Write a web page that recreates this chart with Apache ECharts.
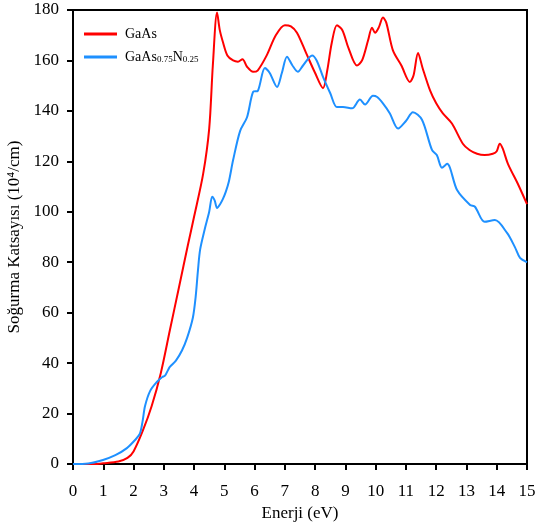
<!DOCTYPE html>
<html><head><meta charset="utf-8">
<script src="https://cdn.jsdelivr.net/npm/echarts@6/dist/echarts.min.js"></script>
<style>html,body{margin:0;padding:0;background:#fff}#c{width:537px;height:524px}</style>
</head><body><div id="c"></div>
<script>
const xTicks = [0,1,2,3,4,5,6,7,8,9,10,11,12,13,14,15];
const yTicks = [0,20,40,60,80,100,120,140,160,180];
const gaasE = [0,0.7,1.0,1.5,1.8,2.0,2.3,2.6,2.9,3.2,3.5,3.8,4.0,4.3,4.5,4.62,4.76,4.85,4.96,5.1,5.29,5.45,5.6,5.75,5.95,6.1,6.4,6.7,7.0,7.2,7.4,7.7,8.0,8.26,8.4,8.55,8.72,8.9,9.1,9.38,9.55,9.75,9.88,9.98,10.1,10.24,10.35,10.57,10.85,11.13,11.25,11.4,11.55,11.8,12.0,12.22,12.52,12.88,13.1,13.35,13.6,13.87,14.0,14.1,14.2,14.37,14.7,15.0];
const gaasA = [0,0,0.3,1.0,2.4,5,13,23,36,53,70,87,98,115,133,158,179,172,167,162,160,159.5,160.5,157.5,155.5,156,162,170,174,173.5,171,163,155,149,156,167,174,172,165,158,160,168,173,171,173,177,175,164,158,151.5,154,163,157,148,143,139,135,127,124.5,123,122.5,123,124,127,125,119,111,103];
const ganE = [0,0.5,0.99,1.4,1.78,2.05,2.21,2.3,2.38,2.55,2.77,2.95,3.04,3.15,3.2,3.4,3.6,3.77,3.96,4.05,4.13,4.2,4.35,4.5,4.6,4.68,4.76,4.86,4.95,5.05,5.15,5.29,5.52,5.75,5.95,6.11,6.34,6.5,6.74,6.9,7.07,7.25,7.43,7.6,7.9,8.05,8.26,8.5,8.72,8.92,9.22,9.48,9.65,9.91,10.05,10.24,10.47,10.74,11.0,11.23,11.53,11.86,12.02,12.19,12.36,12.69,13.12,13.28,13.6,13.94,14.34,14.6,14.77,15.0];
const ganA = [0,0.2,1.6,3.5,6.3,9.5,12,17,23,29,32.5,34.5,35,37.5,38.5,41,45,50,58,66,77,85,93,100,106,104.5,101.5,103,105,108,112,120.5,132,137.5,147.5,148,157,155,149.5,155,161.5,158,155.5,158,162,160,153.5,147,141.5,141.5,141,144.5,142.5,146,145.5,143,139,133,136,139.5,136.5,124.5,122.5,117.5,119,108.6,102.7,102,96,96.7,91.6,86,81.7,80];

const chart = echarts.init(document.getElementById('c'));
const font = 'Liberation Serif';
chart.setOption({
  animation: false,
  textStyle: {fontFamily: font},
  grid: {left: 73, right: 10, top: 10, bottom: 60, show: true, borderColor: '#000', borderWidth: 2,
         containLabel: false, outerBoundsMode: 'none'},
  legend: {
    left: 79, top: 22, orient: 'vertical', itemGap: 9,
    icon: 'rect', itemWidth: 33, itemHeight: 3,
    textStyle: {fontFamily: font, fontSize: 14, color: '#000', padding: [0,0,0,3],
      rich: {sub: {fontFamily: font, fontSize: 9, color: '#000', verticalAlign: 'bottom', padding: [6,0,0,0]}}},
    formatter: function(n){ return n === 'GaAs' ? 'GaAs' : 'GaAs{sub|0.75}N{sub|0.25}'; },
    data: ['GaAs','GaAs0.75N0.25']
  },
  xAxis: {
    type: 'value', min: 0, max: 15, interval: 1,
    name: 'Enerji (eV)', nameLocation: 'middle', nameGap: 40,
    nameTextStyle: {fontFamily: font, fontSize: 17, color: '#000'},
    axisLine: {lineStyle: {color: '#000', width: 2}},
    axisTick: {inside: false, length: 6, lineStyle: {color: '#000', width: 2}},
    axisLabel: {fontFamily: font, fontSize: 17, color: '#000', margin: 19,
      formatter: v => xTicks.includes(v) ? String(v) : ''},
    splitLine: {show: false}
  },
  yAxis: {
    type: 'value', min: 0, max: 180, interval: 20,
    name: 'Soğurma Katsayısı (10⁴/cm)', nameLocation: 'middle', nameGap: 44,
    nameTextStyle: {fontFamily: font, fontSize: 17, color: '#000'},
    axisLine: {lineStyle: {color: '#000', width: 2}},
    axisTick: {inside: false, length: 6, lineStyle: {color: '#000', width: 2}},
    axisLabel: {fontFamily: font, fontSize: 17, color: '#000', margin: 14,
      formatter: v => yTicks.includes(v) ? String(v) : ''},
    splitLine: {show: false}
  },
  series: [
    {name: 'GaAs', type: 'line', smooth: 0.3, showSymbol: false,
     itemStyle: {color: '#ff0000'}, lineStyle: {color: '#ff0000', width: 2},
     data: gaasE.map((e,i)=>[e,gaasA[i]])},
    {name: 'GaAs0.75N0.25', type: 'line', smooth: 0.3, showSymbol: false,
     itemStyle: {color: '#1e90ff'}, lineStyle: {color: '#1e90ff', width: 2},
     data: ganE.map((e,i)=>[e,ganA[i]])}
  ]
});
</script></body></html>
